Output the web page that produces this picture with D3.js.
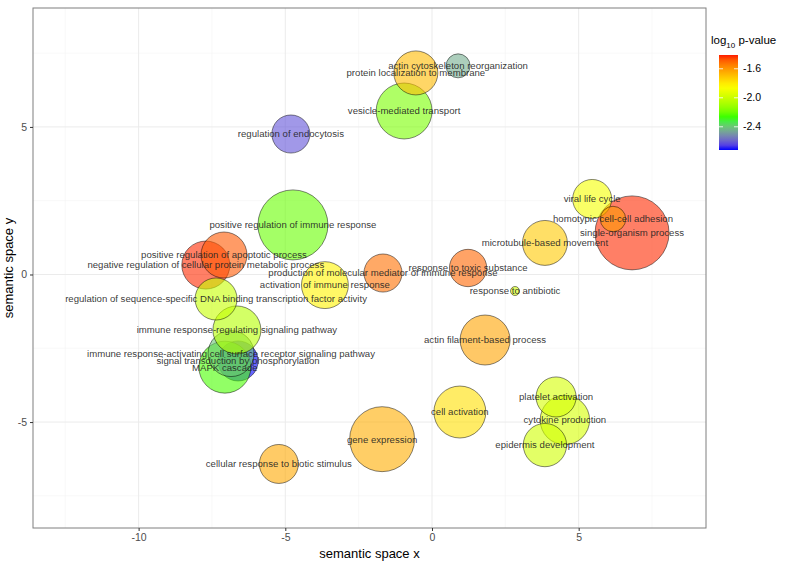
<!DOCTYPE html>
<html><head><meta charset="utf-8">
<script src="https://cdn.jsdelivr.net/npm/d3@7"></script>
<style>body{margin:0;background:#fff;} text{font-family:"Liberation Sans",Arial,sans-serif;}</style>
</head><body><svg id="c" width="787" height="564"></svg>
<script>
// GO terms (drawn in this order)
const terms = [
  "single-organism process","positive regulation of immune response","gene expression",
  "vesicle-mediated transport","cell activation","actin filament-based process",
  "signal transduction by phosphorylation","MAPK cascade","immune response-activating cell surface receptor signaling pathway",
  "immune response-regulating signaling pathway","negative regulation of cellular protein metabolic process",
  "positive regulation of apoptotic process","regulation of sequence-specific DNA binding transcription factor activity",
  "activation of immune response","cytokine production","microtubule-based movement",
  "protein localization to membrane","epidermis development","platelet activation",
  "viral life cycle","cellular response to biotic stimulus","regulation of endocytosis",
  "production of molecular mediator of immune response","response to toxic substance",
  "homotypic cell-cell adhesion","actin cytoskeleton reorganization","response to antibiotic"
];
const plotX = [6.82,-4.74,-1.70,-0.95,0.95,1.81,-6.61,-7.06,-6.85,-6.65,-7.71,-7.09,-7.36,-3.65,4.53,3.85,-0.55,3.85,4.23,5.46,-5.22,-4.81,-1.67,1.23,6.17,0.89,2.83];
const plotY = [1.41,1.68,-5.58,5.54,-4.66,-2.22,-2.93,-3.14,-2.68,-1.88,0.32,0.66,-0.83,-0.36,-4.93,1.07,6.83,-5.78,-4.15,2.56,-6.42,4.76,0.05,0.22,1.88,7.07,-0.56];
const logSize = [4.60,4.38,4.10,3.60,3.38,3.27,2.72,3.38,3.05,3.16,3.16,3.05,2.83,3.10,3.24,2.99,2.94,2.90,2.72,2.66,2.66,2.61,2.61,2.57,1.91,1.83,1.00];
const log10p = [-1.42,-2.21,-1.65,-2.18,-1.77,-1.63,-2.72,-2.25,-2.40,-2.05,-1.42,-1.48,-2.01,-1.82,-1.97,-1.72,-1.68,-1.98,-1.97,-1.88,-1.64,-2.62,-1.52,-1.50,-1.60,-2.45,-1.97];
const xTicks = [-10,-5,0,5];
const yTicks = [-5,0,5];
const xMinor = [-12.5,-7.5,-2.5,2.5,7.5];
const yMinor = [-7.5,-2.5,2.5,7.5];
const legendTicks = [-2.4,-2.0,-1.6];

const svg = d3.select("#c");
const L=33, T=8, R=706, B=528;
const x = d3.scaleLinear().domain([-13.6,9.34]).range([L,R]);
const y = d3.scaleLinear().domain([-8.59,9.03]).range([B,T]);
const r = d3.scaleLinear().domain([1,4.6]).range([4.5,37]);
const cDom=[-2.72,-1.41];
const color = d3.scaleLinear().domain([-2.72,-2.29,-1.85,-1.40])
  .range(["#0000ff","#00ff00","#ffff00","#ff0000"]).interpolate(d3.interpolateLab).clamp(true);
const fmt = v => d3.format(".1f")(v).replace("\u2212","-");
const fmtI = v => d3.format("d")(v).replace("\u2212","-");

// panel
svg.append("rect").attr("x",L).attr("y",T).attr("width",R-L).attr("height",B-T).attr("fill","#fff");
const g = svg.append("g");
g.selectAll(".mnx").data(xMinor).join("line").attr("x1",d=>x(d)).attr("x2",d=>x(d)).attr("y1",T).attr("y2",B).attr("stroke","#f4f4f4").attr("stroke-width",0.6);
g.selectAll(".mny").data(yMinor).join("line").attr("y1",d=>y(d)).attr("y2",d=>y(d)).attr("x1",L).attr("x2",R).attr("stroke","#f4f4f4").attr("stroke-width",0.6);
g.selectAll(".mjx").data(xTicks).join("line").attr("x1",d=>x(d)).attr("x2",d=>x(d)).attr("y1",T).attr("y2",B).attr("stroke","#ebebeb").attr("stroke-width",1);
g.selectAll(".mjy").data(yTicks).join("line").attr("y1",d=>y(d)).attr("y2",d=>y(d)).attr("x1",L).attr("x2",R).attr("stroke","#ebebeb").attr("stroke-width",1);

const data = terms.map((t,i)=>({t,x:plotX[i],y:plotY[i],s:logSize[i],p:log10p[i]}));
svg.append("g").selectAll("circle").data(data).join("circle")
  .attr("cx",d=>x(d.x)).attr("cy",d=>y(d.y)).attr("r",d=>r(d.s))
  .attr("fill",d=>color(d.p)).attr("fill-opacity",0.6)
  .attr("stroke","#000").attr("stroke-opacity",0.6).attr("stroke-width",0.8);
svg.append("g").selectAll("text").data(data).join("text")
  .attr("x",d=>x(d.x)).attr("y",d=>y(d.y)).attr("dy","0.35em")
  .attr("text-anchor","middle").attr("font-size",9.6).attr("fill","#222").attr("fill-opacity",0.9)
  .text(d=>d.t);

svg.append("rect").attr("x",L).attr("y",T).attr("width",R-L).attr("height",B-T).attr("fill","none").attr("stroke","#7f7f7f").attr("stroke-width",1);

// axes
const xa = svg.append("g").attr("transform",`translate(0,${B})`).call(d3.axisBottom(x).tickValues(xTicks).tickSize(3).tickPadding(3).tickFormat(fmtI));
const ya = svg.append("g").attr("transform",`translate(${L},0)`).call(d3.axisLeft(y).tickValues(yTicks).tickSize(3).tickPadding(3).tickFormat(fmtI));
[xa,ya].forEach(a=>{a.select(".domain").remove();a.selectAll("line").attr("stroke","#333");a.selectAll("text").attr("font-size",10.5).attr("fill","#4d4d4d").attr("font-family","Liberation Sans, Arial, sans-serif");});
svg.append("text").attr("x",(L+R)/2).attr("y",558).attr("text-anchor","middle").attr("font-size",13).attr("fill","#000").text("semantic space x");
svg.append("text").attr("transform",`translate(13,${(T+B)/2}) rotate(-90)`).attr("text-anchor","middle").attr("font-size",13).attr("fill","#000").text("semantic space y");

// legend
const lx=719, lw=19, ly0=55, ly1=150;
const ly = d3.scaleLinear().domain(cDom).range([ly1,ly0]);
const defs = svg.append("defs");
const grad = defs.append("linearGradient").attr("id","lg").attr("x1",0).attr("x2",0).attr("y1",1).attr("y2",0);
d3.range(0,1.0001,0.05).forEach(f=>{grad.append("stop").attr("offset",f).attr("stop-color",color(cDom[0]+f*(cDom[1]-cDom[0])));});
svg.append("rect").attr("x",lx).attr("y",ly0).attr("width",lw).attr("height",ly1-ly0).attr("fill","url(#lg)");
legendTicks.forEach(v=>{
  svg.append("line").attr("x1",lx).attr("x2",lx+4).attr("y1",ly(v)).attr("y2",ly(v)).attr("stroke","#fff").attr("stroke-opacity",0.8);
  svg.append("line").attr("x1",lx+lw-4).attr("x2",lx+lw).attr("y1",ly(v)).attr("y2",ly(v)).attr("stroke","#fff").attr("stroke-opacity",0.8);
  svg.append("text").attr("x",lx+lw+5).attr("y",ly(v)).attr("dy","0.35em").attr("font-size",10.5).attr("fill","#000").text(fmt(v));
});
const lt = svg.append("text").attr("x",711).attr("y",44).attr("font-size",11.5).attr("fill","#000");
lt.append("tspan").text("log");
lt.append("tspan").attr("font-size",8).attr("dy",4).text("10");
lt.append("tspan").attr("dy",-4).text(" p-value");
</script></body></html>
